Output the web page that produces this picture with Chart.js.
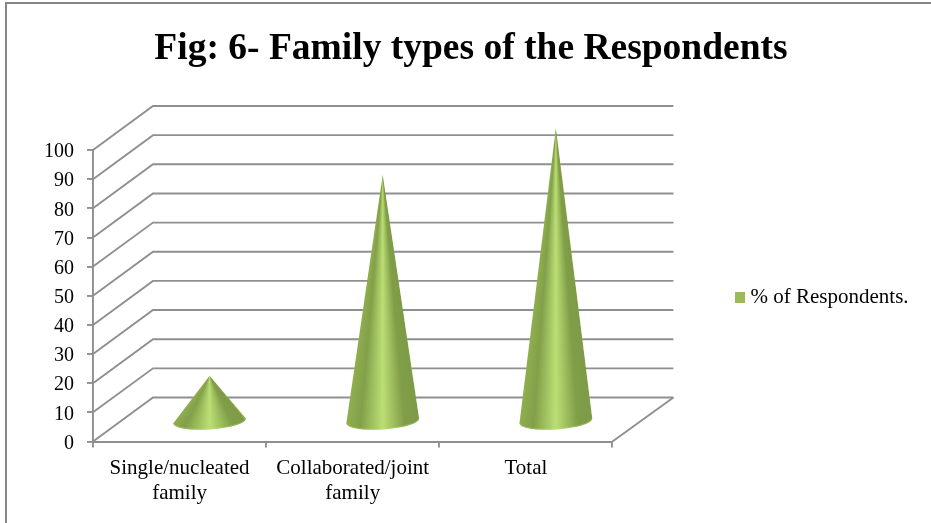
<!DOCTYPE html>
<html>
<head>
<meta charset="utf-8">
<title>Family types of the Respondents</title>
<script src="https://cdn.jsdelivr.net/npm/chart.js@4"></script>
<style>
    html, body { margin: 0; padding: 0; background: #fff; overflow: hidden; }
    #wrap { position: relative; width: 931px; height: 523px; }
    #frame {
        position: absolute; left: 5px; top: 2px; right: 0; bottom: 0;
        border-left: 2px solid #868686; border-top: 2px solid #868686;
        pointer-events: none;
    }
</style>
</head>
<body>
<div id="wrap">
    <canvas id="chart" width="931" height="523"></canvas>
    <div id="frame"></div>
</div>
<script>
// Chart data
const categories = [
    ['Single/nucleated', 'family'],
    ['Collaborated/joint', 'family'],
    'Total'
];
const seriesName = '% of Respondents.';
const respondents = [15, 84, 100];

const fontFamily = '"Liberation Serif", "Times New Roman", serif';
const lineColor = '#8f8f8f';
const lineWidth = 1.9;
const seriesColor = '#9bbb59';

// How far the back wall sits behind the front axes
const depthX = 60;
const depthY = 44;

// Shading across the cone, left edge to right edge
const coneStops = [
    [0, '#90af4e'],
    [0.2, '#82a049'],
    [0.5, '#bbdf74'],
    [0.8, '#809d48'],
    [1, '#7e9c47']
];

// Small square for the legend, drawn as a point style so it sits close to the text
function legendSwatch() {
    const swatch = document.createElement('canvas');
    swatch.width = 11;
    swatch.height = 11;
    const c = swatch.getContext('2d');
    c.fillStyle = seriesColor;
    c.fillRect(0, 0, 11, 11);
    return swatch;
}

// One cone: a conic gradient around the tip, filled up to the tilted base ellipse
function drawCone(ctx, cx, baseY, tipY) {
    const rx = 36.5;
    const ry = 8.5;
    const tilt = -4 * Math.PI / 180;
    const cy = baseY + 1.5;
    const height = cy - tipY;

    const rightAngle = Math.atan2(height, rx);
    const spin = 2 * Math.PI;
    const gradient = ctx.createConicGradient(rightAngle, cx, tipY);
    [...coneStops].reverse().forEach(([u, color]) => {
        const angle = Math.atan2(height, (2 * u - 1) * rx);
        gradient.addColorStop((angle - rightAngle) / spin, color);
    });

    ctx.save();
    ctx.beginPath();
    ctx.moveTo(cx, tipY);
    ctx.ellipse(cx, cy, rx, ry, tilt, Math.PI, 0, true);
    ctx.closePath();
    ctx.fillStyle = gradient;
    ctx.fill();

    // Lighter rim along the front of the base
    ctx.clip();
    ctx.beginPath();
    ctx.ellipse(cx, cy, rx, ry, tilt, Math.PI, 0, true);
    ctx.strokeStyle = 'rgba(190, 225, 120, 0.3)';
    ctx.lineWidth = 2.5;
    ctx.stroke();
    ctx.restore();
}

// Walls and floor behind the cones, and the cones in place of the flat bars
const conePlugin = {
    id: 'cones',
    afterLayout(chart) {
        // Title centres over the whole frame, legend floats right of the walls
        const title = chart.titleBlock;
        title.left = 11;
        title.right = 931;
        title.top += 3;
        title.bottom += 3;

        const legend = chart.legend;
        const w = legend.width;
        legend.left = 735;
        legend.right = 735 + w;
        legend.top += 36;
        legend.bottom += 36;
    },
    beforeDatasetsDraw(chart) {
        const { ctx, chartArea, scales } = chart;
        const right = chartArea.right;
        const left = chartArea.left;
        ctx.save();
        ctx.strokeStyle = lineColor;
        ctx.lineWidth = lineWidth;
        scales.y.ticks.forEach(tick => {
            const y = scales.y.getPixelForValue(tick.value);
            ctx.beginPath();
            ctx.moveTo(left, y);
            ctx.lineTo(left + depthX, y - depthY);
            ctx.lineTo(right + depthX + 1, y - depthY);
            ctx.stroke();
        });
        // Right edge of the floor
        const floor = scales.y.getPixelForValue(0);
        ctx.beginPath();
        ctx.moveTo(right, floor);
        ctx.lineTo(right + depthX + 1, floor - depthY);
        ctx.stroke();
        ctx.restore();
    },
    beforeDatasetDraw() {
        return false;
    },
    afterDatasetsDraw(chart) {
        const { ctx, scales } = chart;
        chart.getDatasetMeta(0).data.forEach((bar, i) => {
            const cx = bar.x + depthX / 2;
            const baseY = scales.y.getPixelForValue(0) - depthY / 2;
            const tipY = scales.y.getPixelForValue(respondents[i]) - depthY / 2;
            drawCone(ctx, cx, baseY, tipY);
        });
    }
};

new Chart(document.getElementById('chart'), {
    type: 'bar',
    plugins: [conePlugin],
    data: {
        labels: categories,
        datasets: [{
            label: seriesName,
            data: respondents,
            backgroundColor: seriesColor
        }]
    },
    options: {
        responsive: false,
        animation: false,
        layout: {
            padding: { left: 11, right: 135, top: 0, bottom: 0 }
        },
        plugins: {
            tooltip: { enabled: false },
            title: {
                display: true,
                text: 'Fig: 6- Family types of the Respondents',
                color: '#000',
                font: { family: fontFamily, size: 37.5, weight: 'bold', lineHeight: 1.2 },
                padding: { top: 24, bottom: 81 }
            },
            legend: {
                position: 'right',
                labels: {
                    color: '#000',
                    font: { family: fontFamily, size: 21 },
                    usePointStyle: true,
                    pointStyle: legendSwatch(),
                    boxWidth: 1,
                    padding: 4
                }
            }
        },
        scales: {
            x: {
                afterFit: (scale) => { scale.height = 81.5; },
                grid: {
                    drawOnChartArea: false,
                    color: lineColor,
                    lineWidth: lineWidth,
                    tickLength: 6
                },
                border: { color: lineColor, width: lineWidth },
                ticks: {
                    color: '#000',
                    font: { family: fontFamily, size: 21, lineHeight: 1.2 },
                    padding: 8,
                    maxRotation: 0,
                    autoSkip: false
                }
            },
            y: {
                min: 0,
                max: 100,
                afterFit: (scale) => { scale.width = 82; },
                grid: {
                    drawOnChartArea: false,
                    color: lineColor,
                    lineWidth: lineWidth,
                    tickLength: 6
                },
                border: { color: lineColor, width: lineWidth },
                ticks: {
                    stepSize: 10,
                    color: '#000',
                    font: { family: fontFamily, size: 20 },
                    padding: 13,
                    labelOffset: 2
                }
            }
        }
    }
});
</script>
</body>
</html>
